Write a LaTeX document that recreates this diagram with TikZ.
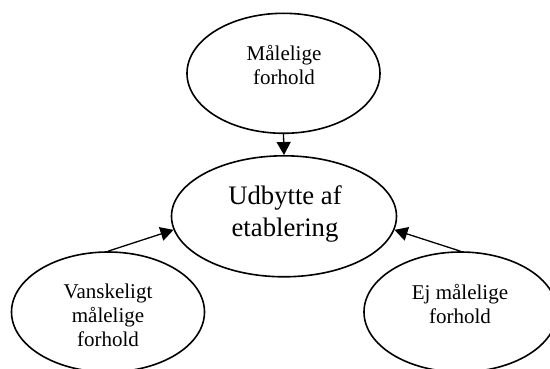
\documentclass[tikz,border=0pt]{standalone}
\usepackage{fontspec}
\setmainfont{Liberation Serif}
\usetikzlibrary{shapes.geometric,arrows.meta}
\begin{document}
\begin{tikzpicture}[x=1pt,y=-1pt,
  bubble/.style={draw,ellipse,line width=1.6pt,inner sep=0pt,minimum width=193pt,minimum height=120pt},
  bigbubble/.style={bubble,minimum width=225pt,minimum height=121pt},
  lbl/.style={align=center,font=\fontsize{21}{24}\selectfont,inner sep=0pt},
  biglbl/.style={align=center,font=\fontsize{26.7}{32}\selectfont,inner sep=0pt},
  link/.style={line width=1.3pt,-{Triangle[length=13pt,width=14pt]}}]
\useasboundingbox (0,0) rectangle (550,369);
\node[bubble] (t) at (283.5,73.3) {};
\node[bigbubble] (c) at (284,216.3) {};
\node[bubble] (l) at (108,312) {};
\node[bubble] (r) at (460.5,312) {};
\node[lbl] (tt) at (284,65) {Målelige\\forhold};
\node[biglbl] (ct) at (285,214) {Udbytte af\\etablering};
\node[lbl] (lt) at (108,315) {Vanskeligt\\målelige\\forhold};
\node[lbl] (rt) at (460,304) {Ej målelige\\forhold};
\draw[link] (t.south) -- (c.north);
\draw[link] (l.north) -- (c.187);
\draw[link] (r.north) -- (c.353);
\end{tikzpicture}
\end{document}
